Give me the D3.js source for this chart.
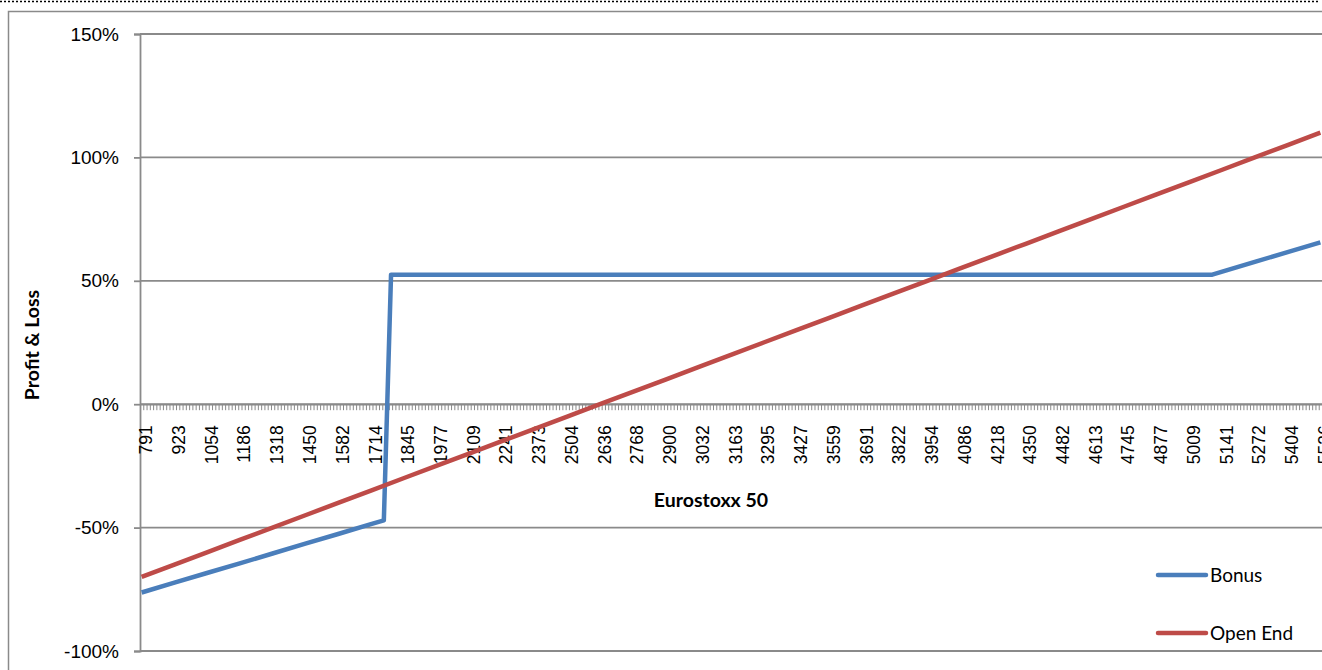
<meta charset="utf-8">
<title>Bonus vs Open End</title>
<script src="https://d3js.org/d3.v7.min.js"></script>
<style>
  body { margin: 0; overflow: hidden; background: #fff; }
  svg { display: block; font-family: Lato, "Open Sans", sans-serif; }
  .axis path, .axis line { stroke: #8a8a8a; }
  .axis text { fill: #000; }
</style>
<svg width="1322" height="670"></svg>
<script>

// Eurostoxx 50 levels that carry a label on the category axis
var xLabels = [791, 923, 1054, 1186, 1318, 1450, 1582, 1714, 1845, 1977, 2109, 2241,
               2373, 2504, 2636, 2768, 2900, 3032, 3163, 3295, 3427, 3559, 3691, 3822,
               3954, 4086, 4218, 4350, 4482, 4613, 4745, 4877, 5009, 5141, 5272, 5404, 5536];
var categoryCount = 361;

// Open End certificate, P&L in % at each labelled level
var openEndLevels = xLabels;
var openEndPnl = [-70, -65, -60, -55, -50, -45, -40, -35, -30, -25, -20, -15, -10, -5, 0,
                  5, 10, 15, 20, 25, 30, 35, 40, 45, 50, 55, 60, 65, 70, 75, 80, 85, 90,
                  95, 100, 105, 110];

// Bonus certificate, P&L in %
var bonusLevels = [791, 923, 1054, 1186, 1318, 1450, 1582, 1714, 1766, 1795, 5101, 5141, 5272, 5404, 5536];
var bonusPnl    = [-76.3, -72.3, -68.4, -64.5, -60.5, -56.5, -52.6, -48.6, -47.1, 52.5, 52.5, 53.7, 57.7, 61.6, 65.6];

var yTicks = [-100, -50, 0, 50, 100, 150];

var series = [
  { name: "Bonus", color: "#4a7ebb", levels: bonusLevels, values: bonusPnl },
  { name: "Open End", color: "#be4b48", levels: openEndLevels, values: openEndPnl }
];

var svg = d3.select("svg");

// outer frame + dotted line on top
svg.append("line")
  .attr("x1", 0).attr("x2", 1318).attr("y1", 1.5).attr("y2", 1.5)
  .attr("stroke", "#000").attr("stroke-width", 1.5).attr("stroke-dasharray", "2,2");
svg.append("rect")
  .attr("x", 8.5).attr("y", 11.5).attr("width", 1400).attr("height", 700)
  .attr("fill", "none").attr("stroke", "#8a8a8a").attr("stroke-width", 1.5);

var plotLeft = 140, plotRight = 1322, plotTop = 34, plotBottom = 651;

var step = (xLabels[xLabels.length - 1] - xLabels[0]) / (categoryCount - 1);
var x = d3.scaleLinear()
  .domain([xLabels[0] - step / 2, xLabels[xLabels.length - 1] + step / 2])
  .range([plotLeft, plotRight]);

var y = d3.scaleLinear()
  .domain([-100, 150])
  .range([plotBottom, plotTop]);

// horizontal gridlines
svg.append("g")
  .selectAll("line")
  .data(yTicks)
  .enter()
  .append("line")
  .attr("x1", plotLeft).attr("x2", plotRight)
  .attr("y1", function(d) { return y(d); })
  .attr("y2", function(d) { return y(d); })
  .attr("stroke", "#8a8a8a")
  .attr("stroke-width", 1.8);

// y axis
var yAxis = svg.append("g")
  .attr("class", "axis")
  .attr("transform", "translate(" + plotLeft + ",0)")
  .call(d3.axisLeft(y).tickValues(yTicks).tickSize(6).tickPadding(15)
    .tickFormat(function(d) { return d + "%"; }));
yAxis.selectAll("path, line").attr("stroke-width", 1.8);
yAxis.selectAll("text").style("font-size", "19px");

// x axis: a tick at every category border
var minorTicks = d3.range(categoryCount + 1).map(function(k) { return x.domain()[0] + k * step; });
var xAxis = svg.append("g")
  .attr("class", "axis")
  .attr("transform", "translate(0," + y(0) + ")")
  .call(d3.axisBottom(x).tickValues(minorTicks).tickSizeInner(6).tickSizeOuter(0)
    .tickFormat(""));
xAxis.select("path").attr("stroke-width", 1.8);
xAxis.selectAll("line").attr("stroke-width", 1);

// x labels, rotated
var xLab = svg.append("g")
  .attr("class", "axis")
  .attr("transform", "translate(0," + y(0) + ")")
  .call(d3.axisBottom(x).tickValues(xLabels).tickSize(0).tickFormat(d3.format("d")));
xLab.select("path").remove();
xLab.selectAll("text")
  .style("font-size", "17.5px")
  .attr("text-anchor", "end")
  .attr("transform", "rotate(-90)")
  .attr("x", -21)
  .attr("y", 4)
  .attr("dy", "0.35em");

// axis titles
svg.append("text")
  .attr("transform", "translate(39,345) rotate(-90)")
  .attr("text-anchor", "middle")
  .style("font-size", "19.5px")
  .style("font-weight", "bold")
  .text("Profit & Loss");

svg.append("text")
  .attr("x", 711).attr("y", 507)
  .attr("text-anchor", "middle")
  .style("font-size", "19.5px")
  .style("font-weight", "bold")
  .text("Eurostoxx 50");

// lines
var line = d3.line()
  .x(function(d) { return x(d[0]); })
  .y(function(d) { return y(d[1]); });

svg.append("g")
  .selectAll("path")
  .data(series)
  .enter()
  .append("path")
  .attr("d", function(s) { return line(d3.zip(s.levels, s.values)); })
  .attr("fill", "none")
  .attr("stroke", function(s) { return s.color; })
  .attr("stroke-width", 4.5)
  .attr("stroke-linejoin", "round");

// legend
var legend = svg.append("g")
  .selectAll("g")
  .data(series)
  .enter()
  .append("g")
  .attr("transform", function(d, i) { return "translate(1158," + (575 + i * 58) + ")"; });

legend.append("line")
  .attr("x1", 0).attr("x2", 48)
  .attr("stroke", function(d) { return d.color; })
  .attr("stroke-width", 4.5)
  .attr("stroke-linecap", "round");

legend.append("text")
  .attr("x", 52)
  .attr("dy", "0.35em")
  .style("font-size", "19px")
  .text(function(d) { return d.name; });

</script>
